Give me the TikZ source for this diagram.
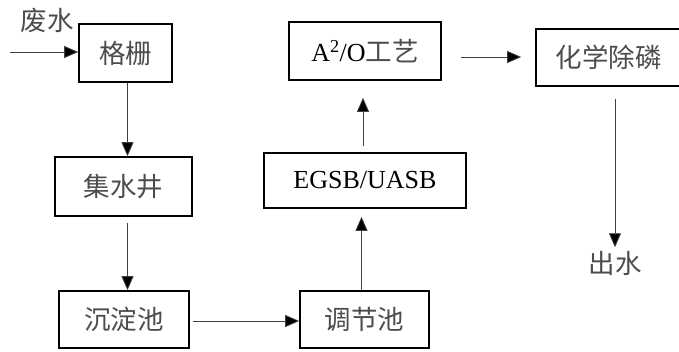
\documentclass[tikz,border=0pt]{standalone}
\usepackage{fontspec}
\setmainfont{Liberation Serif}
\newfontfamily\cjk{Noto Sans CJK SC}
\usetikzlibrary{arrows.meta,positioning}
\tikzset{
	stage/.style = {draw, line width = 1.6pt, rectangle, inner sep = 0,
		text = black!70, font = \fontsize{26.5}{30}\selectfont\cjk},
	latin/.style = {text = black, font = \fontsize{26}{30}\selectfont},
	word/.style  = {text = black!70, font = \fontsize{26.5}{30}\selectfont\cjk},
	flow/.style  = {line width = 0.8pt, draw = black!75,
		-{Triangle[length = 14pt, width = 12pt, fill = black]}},
}

\begin{document}
\begin{tikzpicture}[x = 1pt, y = -1pt]
\useasboundingbox (0,0) rectangle (679,351);
	\node[stage, minimum width = 93pt,  minimum height = 58pt] (grille) at (125.5,53)  {格栅};
	\node[stage, minimum width = 137pt, minimum height = 59pt] (well)   at (123.5,186.5) {集水井};
	\node[stage, minimum width = 130pt, minimum height = 57pt] (settle) at (124,319.5) {沉淀池};
	\node[stage, minimum width = 129pt, minimum height = 57pt] (adjust) at (364.5,319.5) {调节池};
	\node[stage, latin, minimum width = 202pt, minimum height = 55pt] (egsb) at (365,180.5) {EGSB/UASB};
	\node[stage, minimum width = 152pt, minimum height = 58pt] (ao) at (365,51)
		{{\fontsize{26}{30}\selectfont\rmfamily\color{black}A\textsuperscript{2}/O}工艺};
	\node[stage, minimum width = 145pt, minimum height = 57pt] (phos) at (608.5,57.5) {化学除磷};
	\node[word] (waste) at (47,20) {废水};
	\node[word] (out) at (615,263) {出水};
	\coordinate (inlet) at (10,52);
% connectors
	\draw[flow] (inlet) -- (inlet -| grille.west);
	\draw[flow] ([xshift = 2pt]grille.south) -- ([xshift = 2pt]grille.south |- well.north) ;
	\draw[flow, shorten < = 6pt] ([xshift = 4pt]well.south) -- ([xshift = 4pt]well.south |- settle.north);
	\draw[flow, shorten < = 3pt] (settle.east |- 0,321) -- (adjust.west |- 0,321);
	\draw[flow, shorten > = 8pt] ([xshift = -3pt]adjust.north) -- ([xshift = -3pt]adjust.north |- egsb.south);
	\draw[flow, shorten < = 6pt, shorten > = 17pt] ([xshift = -2pt]egsb.north) -- ([xshift = -2pt]egsb.north |- ao.south);
	\draw[flow, shorten < = 19pt, shorten > = 14pt] (ao.east |- 0,57) -- (phos.west |- 0,57);
	\draw[flow, shorten < = 12pt] (phos.south -| out) -- (out.north);
\end{tikzpicture}
\end{document}
